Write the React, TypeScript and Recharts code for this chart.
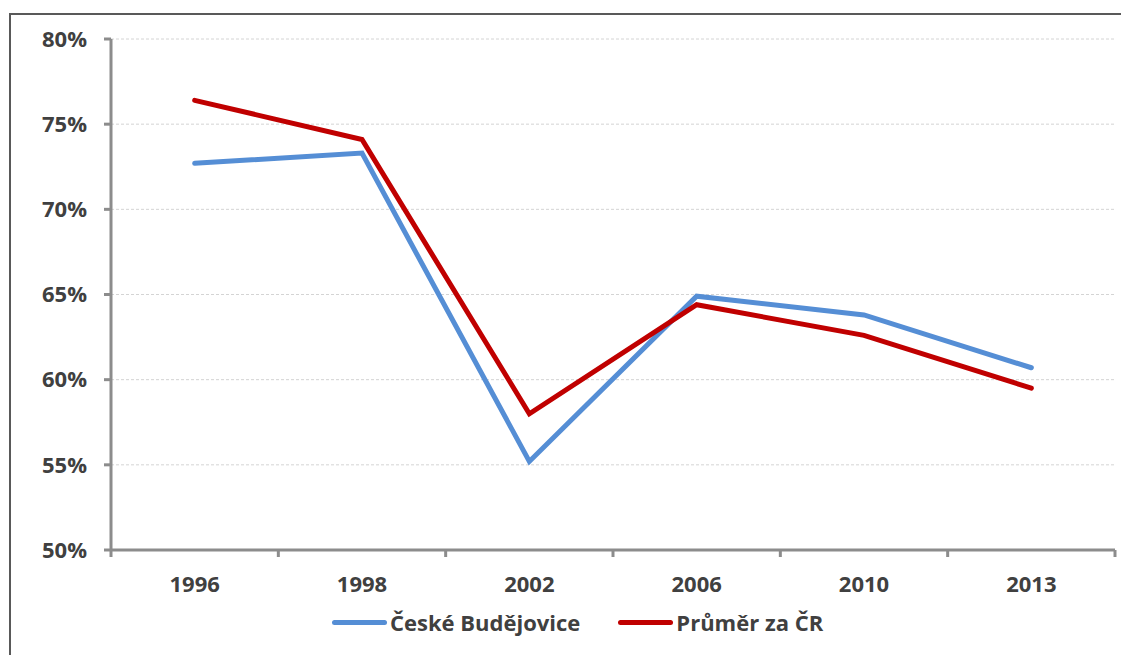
import { LineChart, Line, XAxis, YAxis, CartesianGrid, Legend } from 'recharts';

const years = ['1996', '1998', '2002', '2006', '2010', '2013'];
const budejovice = [72.7, 73.3, 55.2, 64.9, 63.8, 60.7];
const prumerCR = [76.4, 74.1, 58.0, 64.4, 62.6, 59.5];
const yTicks = [50, 55, 60, 65, 70, 75, 80];
const seriesOrder = ['České Budějovice', 'Průměr za ČR'];

const data = years.map((year, i) => ({
  year,
  pos: i + 0.5,
  budejovice: budejovice[i],
  prumer: prumerCR[i],
}));

const W = 1118;
const H = 640;
const Y_AXIS_W = 100;
const MARGIN = { top: 24, right: 14, left: 0, bottom: 0 };
const STEP = (W - Y_AXIS_W - MARGIN.left - MARGIN.right) / years.length;

const FONT = '"Open Sans", sans-serif';
const TEXT = '#404040';
const AXIS = '#8c8c8c';

function YearTick(props: any) {
  const { x, y, payload } = props;
  const i = payload.value;
  if (i >= years.length) return null;
  return (
    <text
      x={x + STEP / 2}
      y={y}
      dy={17}
      textAnchor="middle"
      fill={TEXT}
      fontFamily={FONT}
      fontWeight={700}
      fontSize={22}
    >
      {years[i]}
    </text>
  );
}

function LegendBox(props: any) {
  const items = [...(props.payload || [])].sort(
    (a: any, b: any) => seriesOrder.indexOf(a.value) - seriesOrder.indexOf(b.value)
  );
  return (
    <div style={{ display: 'flex', alignItems: 'center', fontFamily: FONT }}>
      {items.map((p: any) => (
        <div key={p.value} style={{ display: 'flex', alignItems: 'center', marginRight: 38 }}>
          <div style={{ width: 55, height: 5, borderRadius: 3, background: p.color, marginRight: 3 }} />
          <span style={{ color: TEXT, fontWeight: 700, fontSize: 22 }}>{p.value}</span>
        </div>
      ))}
    </div>
  );
}

export default function App() {
  return (
    <div
      style={{
        marginTop: 5,
        marginLeft: 1,
        borderLeft: '2px solid #595959',
        borderTop: '2px solid #595959',
        width: W,
        height: H,
      }}
    >
      <LineChart width={W} height={H} data={data} margin={MARGIN}>
        <CartesianGrid vertical={false} stroke="#d4d4d4" strokeDasharray="3 2" />
        <XAxis
          dataKey="pos"
          type="number"
          domain={[0, years.length]}
          ticks={[0, 1, 2, 3, 4, 5, 6]}
          tick={<YearTick />}
          tickSize={7}
          tickMargin={18}
          height={75}
          stroke={AXIS}
          strokeWidth={3}
          interval={0}
          allowDecimals
        />
        <YAxis
          domain={[50, 80]}
          ticks={yTicks}
          tickFormatter={(v: number) => `${v}%`}
          width={Y_AXIS_W}
          tickSize={7}
          tickMargin={17}
          stroke={AXIS}
          strokeWidth={3}
          tick={{ fill: TEXT, fontFamily: FONT, fontWeight: 700, fontSize: 22 }}
          interval={0}
        />
        <Legend
          content={<LegendBox />}
          wrapperStyle={{ left: 321, top: 592, width: 'auto' }}
        />
        <Line
          name="České Budějovice"
          dataKey="budejovice"
          stroke="#558ed5"
          strokeWidth={5}
          strokeLinecap="round"
          dot={false}
          isAnimationActive={false}
        />
        <Line
          name="Průměr za ČR"
          dataKey="prumer"
          stroke="#c00000"
          strokeWidth={5}
          strokeLinecap="round"
          dot={false}
          isAnimationActive={false}
        />
      </LineChart>
    </div>
  );
}
